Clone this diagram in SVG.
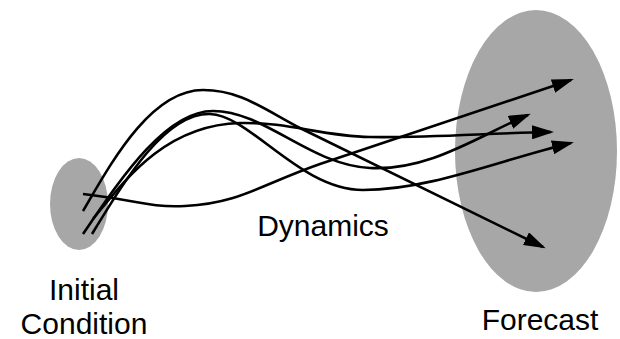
<svg xmlns="http://www.w3.org/2000/svg" width="620" height="339" viewBox="0 0 620 339">
<style>
.region{fill:#a7a7a7;stroke:none}
.traj{fill:none;stroke:#000;stroke-width:2.6;marker-end:url(#arr)}
.lbl{font-family:"Liberation Sans",Arial,Helvetica,sans-serif;font-size:30px;fill:#000;text-anchor:middle}
</style>
<defs>
<marker id="arr" markerUnits="userSpaceOnUse" viewBox="0 0 22 14" refX="19" refY="7" markerWidth="22" markerHeight="14" orient="auto">
<path d="M0,0 L22,7 L0,14 z" fill="#000"/>
</marker>
</defs>
<rect width="620" height="339" fill="#fff"/>
<g id="initial-condition">
<ellipse class="region" cx="79" cy="204" rx="29" ry="46"/>
<text class="lbl" x="84" y="300">Initial</text>
<text class="lbl" x="84" y="334">Condition</text>
</g>
<g id="forecast">
<ellipse class="region" cx="536" cy="151" rx="81" ry="141"/>
<text class="lbl" x="540" y="330">Forecast</text>
</g>
<g id="dynamics">
<text class="lbl" x="323" y="236">Dynamics</text>
</g>
<g id="connectors">
<path class="traj" d="M83,194 C130,199 150,208 185,206 C240,203 260,185 320,164 L571,80"/>
<path class="traj" d="M83,211 C110,165 150,90 203,90 C240,90 262,108 300,128 L543,247"/>
<path class="traj" d="M93,219 C125,180 165,125 240,123 C290,122 320,136 370,137 C430,138 490,133 551,132"/>
<path class="traj" d="M83,234 C120,180 165,111 213,111 C265,111 310,165 370,168 C430,171 480,135 528,115"/>
<path class="traj" d="M92,234 C125,180 165,113 210,114 C250,115 300,190 363,190 C430,190 500,160 571,143"/>
</g>
</svg>
